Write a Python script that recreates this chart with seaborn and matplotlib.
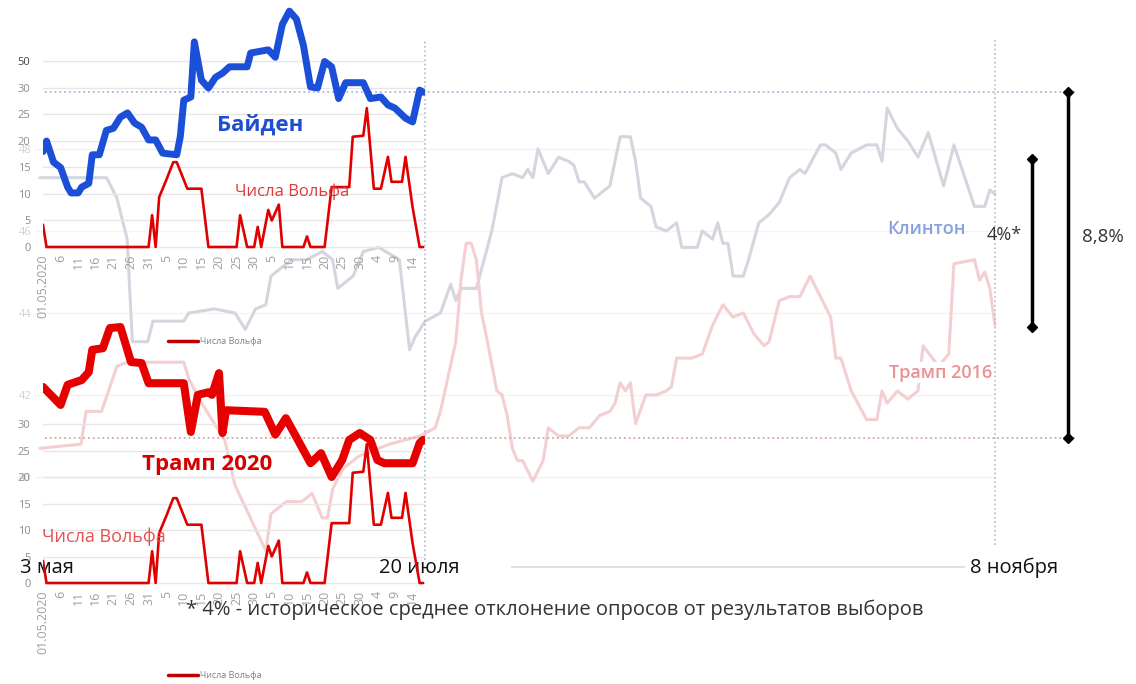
import matplotlib
matplotlib.use('Agg')
import matplotlib.pyplot as plt
import seaborn as sns
from matplotlib.lines import Line2D

# ---- 2020 small charts, x = days since 01.05.2020
biden_day = [0, 1, 3, 5, 7, 8, 10, 11, 13, 14, 16, 18, 20, 22, 24, 26, 28, 30, 32, 34,
             38, 39, 40, 42, 43, 45, 47, 49, 51, 53, 58, 59, 64, 66, 68, 70, 72, 74, 76, 78,
             80, 82, 84, 86, 91, 93, 96, 98, 100, 103, 105, 107, 108]
biden_val = [18, 20, 16, 15, 11.3, 10.2, 10.2, 11.3, 12, 17.4, 17.4, 22, 22.4, 24.5, 25.3, 23.4, 22.6, 20.2, 20.2, 17.7,
             17.4, 20.8, 27.7, 28.3, 38.7, 31.5, 30, 32, 32.8, 34, 34, 36.6, 37.2, 35.8, 42, 44.5, 43, 38, 30.2, 30,
             35, 34, 28, 31, 31, 28, 28.3, 26.8, 26.2, 24.3, 23.6, 29.6, 29.2]

trump20_day = [0, 5, 7, 11, 13, 14, 17, 19, 22, 25, 28, 30, 40, 42, 44, 47, 48, 50, 51, 52,
               63, 66, 69, 72, 76, 79, 82, 85, 87, 90, 93, 95, 97, 105, 107, 108]
trump20_val = [37, 33.6, 37.4, 38.3, 39.8, 44, 44.3, 48.1, 48.3, 41.7, 41.5, 37.7, 37.7, 28.5, 35.5, 36, 35.5, 39.6, 28.3, 32.6,
               32.3, 28, 31.1, 27.5, 22.6, 24.5, 20, 23.2, 27, 28.3, 27, 23.2, 22.6, 22.6, 26.4, 27]

wolf_day = [0, 1, 30, 31, 32, 33, 35, 37, 38, 41, 45, 47, 55, 56, 58, 60, 61, 62, 64, 65,
            67, 68, 74, 75, 76, 80, 82, 87, 88, 91, 92, 94, 96, 98, 99, 102, 103, 105, 107, 108]
wolf_val = [4.2, 0, 0, 6, 0, 9.4, 12.6, 16, 16, 11, 11, 0, 0, 6, 0, 0, 3.8, 0, 7, 5,
            8, 0, 0, 2, 0, 0, 11.3, 11.3, 20.8, 21, 26.2, 11, 11, 17, 12.3, 12.3, 17, 7.5, 0, 0]

tick_day = list(range(0, 106, 5))
tick_lbl = ['01.05.2020', '6', '11', '16', '21', '26', '31', '5', '10', '15', '20',
            '25', '30', '5', '10', '15', '20', '25', '30', '4', '9', '14']
top_yticks = [0, 5, 10, 15, 20, 25, 30, 35]
top_ylbl = ['0', '5', '10', '15', '20', '25', '30', '50']
bot_yticks = [0, 5, 10, 15, 20, 25, 30]

# ---- 2016 background chart, x = days since 3 May 2016, y = %
clinton_day = [3, 16, 18, 20, 21, 24, 25, 31, 32, 37, 41, 43, 45, 47, 48, 50, 52, 55, 58, 60,
               61, 62, 64, 66, 69, 73, 74, 75, 76, 78, 81, 83, 84, 85, 88, 91, 93, 95, 97, 98,
               99, 100, 102, 104, 106, 107, 108, 109, 111, 113, 114, 116, 118, 119, 120, 122, 123, 125, 127, 128,
               131, 132, 134, 135, 136, 137, 138, 140, 141, 143, 145, 147, 149, 151, 152, 155, 156, 158, 159, 161,
               164, 166, 167, 168, 170, 172, 174, 176, 179, 181, 185, 187, 188, 189]
clinton_val = [47.3, 47.3, 46.8, 45.8, 43.3, 43.3, 43.8, 43.8, 44.0, 44.1, 44.0, 43.6, 44.1, 44.2, 44.9, 45.1, 45.3, 45.3, 45.5, 45.3,
               44.6, 44.7, 44.9, 45.5, 45.6, 45.3, 44.2, 43.1, 43.4, 43.8, 44.0, 44.7, 44.3, 44.6, 44.6, 46.0, 47.3, 47.4, 47.3, 47.5,
               47.3, 48.0, 47.4, 47.8, 47.7, 47.6, 47.2, 47.2, 46.8, 47.0, 47.1, 48.3, 48.3, 47.7, 46.8, 46.6, 46.1, 46.0, 46.2, 45.6,
               45.6, 46.0, 45.8, 46.2, 45.7, 45.7, 44.9, 44.9, 45.3, 46.2, 46.4, 46.7, 47.3, 47.5, 47.4, 48.1, 48.1, 47.9, 47.5, 47.9,
               48.1, 48.1, 47.7, 49.0, 48.5, 48.2, 47.8, 48.4, 47.1, 48.1, 46.6, 46.6, 47.0, 46.9]

trump16_day = [3, 11, 12, 15, 18, 20, 24, 31, 32, 34, 39, 41, 44, 47, 48, 51, 54, 56, 58, 59,
               60, 62, 65, 71, 77, 80, 81, 84, 85, 86, 87, 88, 89, 90, 92, 93, 94, 95, 96, 97,
               99, 101, 102, 104, 106, 108, 110, 112, 114, 115, 116, 117, 118, 119, 121, 123, 125, 126, 127, 128,
               130, 132, 134, 136, 138, 140, 142, 144, 145, 147, 149, 151, 153, 155, 157, 158, 159, 161, 164, 166,
               167, 168, 170, 172, 174, 175, 178, 180, 181, 185, 186, 187, 188, 189]
trump16_val = [40.7, 40.8, 41.6, 41.6, 42.7, 42.8, 42.8, 42.8, 42.4, 41.9, 40.9, 39.8, 39.0, 38.2, 39.1, 39.4, 39.4, 39.6, 39.0, 39.0,
               39.7, 40.2, 40.5, 40.8, 41.0, 41.2, 41.6, 43.3, 44.8, 45.7, 45.7, 45.3, 44.0, 43.4, 42.1, 42.0, 41.5, 40.7, 40.4, 40.4,
               39.9, 40.4, 41.2, 41.0, 41.0, 41.2, 41.2, 41.5, 41.6, 41.8, 42.3, 42.1, 42.3, 41.3, 42.0, 42.0, 42.1, 42.2, 42.9, 42.9,
               42.9, 43.0, 43.7, 44.2, 43.9, 44.0, 43.5, 43.2, 43.3, 44.3, 44.4, 44.4, 44.9, 44.4, 43.9, 42.9, 42.9, 42.1, 41.4, 41.4,
               42.1, 41.8, 42.1, 41.9, 42.1, 43.2, 42.7, 43.0, 45.2, 45.3, 44.8, 45.0, 44.6, 43.7]
bg_yticks = [40, 42, 44, 46, 48]

date_day = [0, 78, 189]
date_lbl = ['3 мая', '20 июля', '8 ноября']
gap_total = [49.4, 40.95]   # 8,8%
gap_hist = [47.75, 43.65]   # 4%

sns.set_style('white')
plt.rcParams['font.family'] = ['Open Sans', 'DejaVu Sans']

W, H = 1136, 684
fig = plt.figure(figsize=(W / 100, H / 100), dpi=100)


def px_axes(x0, y0, x1, y1):
    ax = fig.add_axes([x0 / W, 1 - y1 / H, (x1 - x0) / W, (y1 - y0) / H])
    ax.patch.set_alpha(0)
    return ax


## background 2016 chart
bg = px_axes(24.5, 0, W, 567)
bg.set_xlim(0, 216.46)
bg.set_ylim(37.805, 51.634)
for s in ['top', 'left', 'right']:
    bg.spines[s].set_visible(False)
bg.spines['bottom'].set_bounds(95, 183)
bg.spines['bottom'].set_color('#e0e0e0')
bg.spines['bottom'].set_linewidth(1.5)
bg.set_xticks([])
bg.set_yticks(bg_yticks)
bg.tick_params(axis='y', length=0, pad=-5, labelsize=8, labelcolor='#d2d2d2')
for v in bg_yticks:
    bg.axhline(v, xmin=0.009, xmax=0.873, color='#f3f3f3', lw=1, zorder=0)

sns.lineplot(x=clinton_day, y=clinton_val, ax=bg, color='#d3d6de', linewidth=2.2,
             estimator=None, sort=False)
sns.lineplot(x=trump16_day, y=trump16_val, ax=bg, color='#f4cfd1', linewidth=2.2,
             estimator=None, sort=False)

bg.axvline(date_day[1], ymin=0.013, ymax=0.93, color='#a9b9d6', ls=':', lw=1.2)
bg.axvline(date_day[2], ymin=0.039, ymax=0.93, color='#bbbbbb', ls=':', lw=1.2)
bg.axhline(gap_total[0], xmin=0.018, xmax=0.945, color='#a9b7d6', ls=':', lw=1.3)
bg.axhline(gap_total[1], xmin=0.018, xmax=0.945, color='#d2a9a9', ls=':', lw=1.3)

bg.plot([203.2, 203.2], gap_total, color='black', lw=2.5, marker='D', ms=5.5)
bg.plot([196.2, 196.2], gap_hist, color='black', lw=2.5, marker='D', ms=5.5)
bg.text(190.8, 45.9, '4%*', ha='center', va='center', fontsize=13, color='#333333')
bg.text(210.0, 45.85, '8,8%', ha='center', va='center', fontsize=13.5, color='#333333')
bg.text(175.6, 46.05, 'Клинтон', ha='center', va='center', fontsize=13,
        color='#86a0e0', fontweight='semibold')
bg.text(178.5, 42.54, 'Трамп 2016', ha='center', va='center', fontsize=13,
        color='#eb9092', fontweight='semibold',
        bbox=dict(facecolor='white', edgecolor='none', pad=1))

for d, lbl, off, ha in zip(date_day, date_lbl, [-0.9, -1.2, 3.7], ['left', 'center', 'center']):
    bg.text(d + off, 37.78, lbl, ha=ha, va='center', fontsize=14.5, color='#111111')

fig.text(555 / W, 1 - 610 / H, '* 4% - историческое среднее отклонение опросов от результатов выборов',
         ha='center', va='center', fontsize=14.5, color='#333333')


## small 2020 charts
def small_chart(box, ylim, yticks, ylbl):
    ax = px_axes(*box)
    ax.set_xlim(0, 108.5)
    ax.set_ylim(*ylim)
    for s in ax.spines.values():
        s.set_visible(False)
    ax.set_yticks(yticks)
    ax.set_yticklabels(ylbl)
    ax.set_xticks(tick_day)
    ax.set_xticklabels(tick_lbl, rotation=90)
    ax.tick_params(axis='y', length=0, pad=9, labelsize=8, labelcolor='#8c8c8c')
    ax.tick_params(axis='x', length=0, pad=2, labelsize=9, labelcolor='#a0a0a0')
    ax.yaxis.grid(True, color='#e6e6e6', lw=1)
    ax.set_axisbelow(True)
    return ax


top = small_chart((43, 0, 424.9, 252), (-0.943, 46.6), top_yticks, top_ylbl)
top.get_yticklabels()[-1].set_color('#444444')
sns.lineplot(x=wolf_day, y=wolf_val, ax=top, color='#e00000', linewidth=1.9,
             estimator=None, sort=False)
sns.lineplot(x=biden_day, y=biden_val, ax=top, color='#1b4fd8', linewidth=5,
             estimator=None, sort=False)
top.text(61.6, 23, 'Байден', ha='center', va='center', fontsize=16, fontweight='bold', color='#1f4fd0')
top.text(70.7, 10.4, 'Числа Вольфа', ha='center', va='center', fontsize=12, color='#e03a3a')
top.set_xlabel('')
top.set_ylabel('')
top.legend(handles=[Line2D([], [], color='#c00000', lw=2.5)], labels=['Числа Вольфа'],
           loc='center left', bbox_to_anchor=(168 / W, 1 - 342 / H), bbox_transform=fig.transFigure,
           frameon=False, fontsize=6.5, handlelength=3.3, handletextpad=0.3,
           borderpad=0, borderaxespad=0, labelcolor='#808080')

bot = small_chart((43, 300, 424.9, 588), (-0.943, 53.4), bot_yticks, [str(v) for v in bot_yticks])
sns.lineplot(x=wolf_day, y=wolf_val, ax=bot, color='#e00000', linewidth=1.9,
             estimator=None, sort=False)
sns.lineplot(x=trump20_day, y=trump20_val, ax=bot, color='#e60000', linewidth=5.8,
             estimator=None, sort=False)
bot.text(46.6, 22.3, 'Трамп 2020', ha='center', va='center', fontsize=16, fontweight='bold', color='#d40000')
bot.text(17.3, 8.7, 'Числа Вольфа', ha='center', va='center', fontsize=13, color='#e85050')
bot.set_xlabel('')
bot.set_ylabel('')
bot.legend(handles=[Line2D([], [], color='#c00000', lw=2.5)], labels=['Числа Вольфа'],
           loc='center left', bbox_to_anchor=(168 / W, 1 - 676 / H), bbox_transform=fig.transFigure,
           frameon=False, fontsize=6.5, handlelength=3.3, handletextpad=0.3,
           borderpad=0, borderaxespad=0, labelcolor='#808080')

fig.savefig('out.png', dpi=100)
